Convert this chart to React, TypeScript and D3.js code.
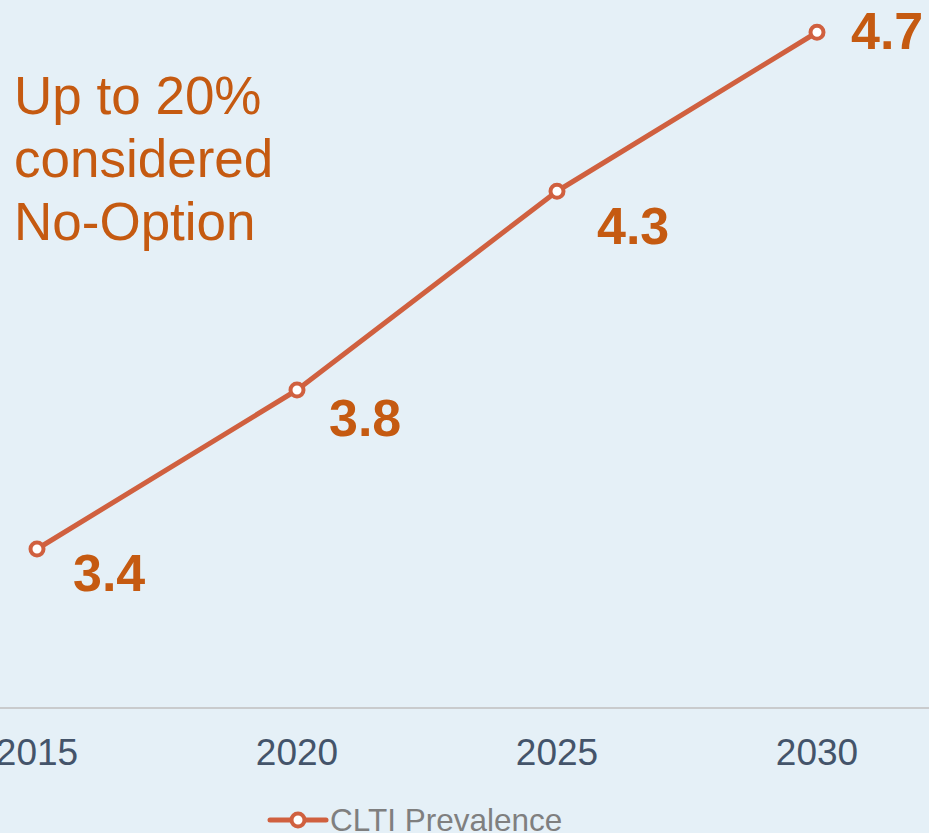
import React from "react";
import * as d3 from "d3";

const years = ["2015", "2020", "2025", "2030"];
const prevalence = [3.4, 3.8, 4.3, 4.7];
const seriesName = "CLTI Prevalence";
const annotationLines = ["Up to 20%", "considered", "No-Option"];

// manual label placement (pixel offsets from each point)
const labelDx = [36, 32, 40, 34];
const labelDy = [42, 46, 53, 17];

const W = 929;
const H = 833;
const BG = "#e5f0f7";
const LINE = "#d0603f";
const LABEL = "#c55a11";
const FONT = "Liberation Sans, Arial, sans-serif";

export default function App() {
  const x = d3.scalePoint<string>().domain(years).range([37, 817]);
  const y = d3.scaleLinear().domain([3, 5]).range([708, -87]);
  const data = years.map((yr, i) => ({ yr, v: prevalence[i] }));
  const line = d3
    .line<{ yr: string; v: number }>()
    .x((d) => x(d.yr)!)
    .y((d) => y(d.v));

  return (
    <div style={{ position: "absolute", left: 0, top: 0, width: W, height: H, background: BG }}>
      <svg width={W} height={H} style={{ display: "block" }} fontFamily={FONT}>
        <rect width={W} height={H} fill={BG} />
        <line x1={0} x2={W} y1={y(3)} y2={y(3)} stroke="#bfbfbf" strokeWidth={1.5} />
        {years.map((yr) => (
          <text key={yr} x={x(yr)} y={765} textAnchor="middle" fontSize={37} fill="#44546a">
            {yr}
          </text>
        ))}
        <path d={line(data) ?? ""} fill="none" stroke={LINE} strokeWidth={5} strokeLinejoin="round" />
        {data.map((d) => (
          <circle key={d.yr} cx={x(d.yr)} cy={y(d.v)} r={6.5} fill="#fff" stroke={LINE} strokeWidth={4} />
        ))}
        {data.map((d, i) => (
          <text
            key={"l" + d.yr}
            x={x(d.yr)! + labelDx[i]}
            y={y(d.v) + labelDy[i]}
            fontSize={52}
            fontWeight="bold"
            fill={LABEL}
          >
            {d.v.toFixed(1)}
          </text>
        ))}
        {annotationLines.map((t, i) => (
          <text key={t} x={14} y={114 + i * 63} fontSize={53} fill={LABEL}>
            {t}
          </text>
        ))}
        <line x1={270} x2={326} y1={820} y2={820} stroke={LINE} strokeWidth={5} strokeLinecap="round" />
        <circle cx={298} cy={820} r={6.5} fill="#fff" stroke={LINE} strokeWidth={4} />
        <text x={330} y={831} fontSize={31.5} fill="#7f7f7f">
          {seriesName}
        </text>
      </svg>
    </div>
  );
}
